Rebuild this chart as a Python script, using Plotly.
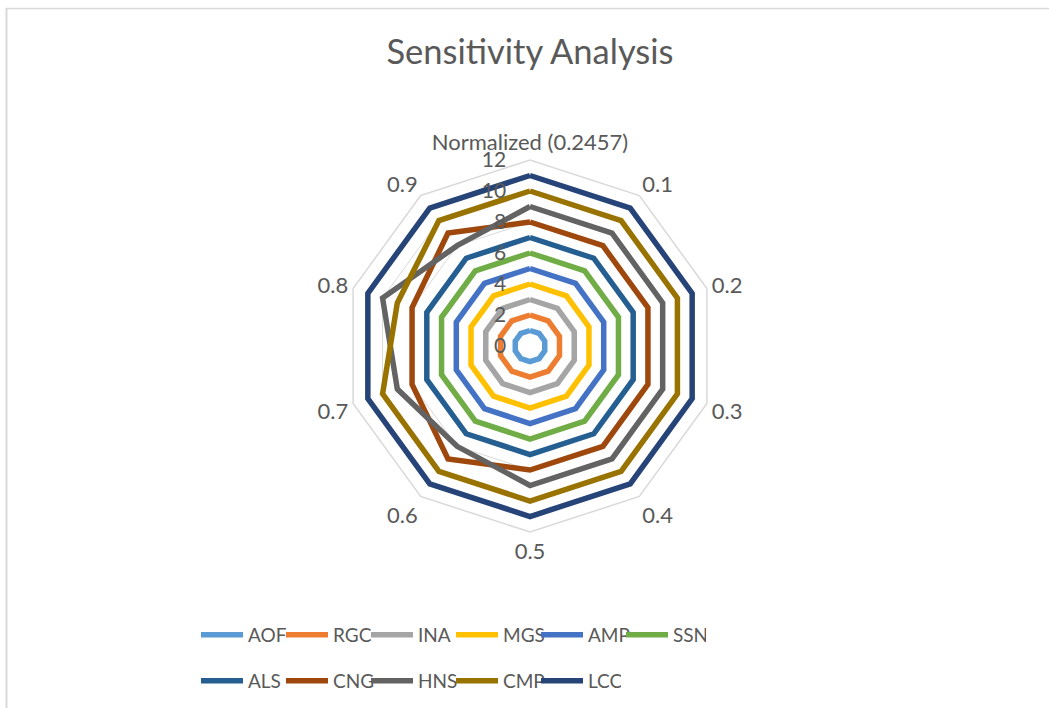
import plotly.graph_objects as go

W, H = 1049, 708

# Angular categories (normalized base value plus sensitivity steps)
categories = ["Normalized (0.2457)", "0.1", "0.2", "0.3", "0.4",
              "0.5", "0.6", "0.7", "0.8", "0.9"]

# Series values around the radar, one per category
AOF = [1, 1, 1, 1, 1, 1, 1, 1, 1, 1]
RGC = [2, 2, 2, 2, 2, 2, 2, 2, 2, 2]
INA = [3, 3, 3, 3, 3, 3, 3, 3, 3, 3]
MGS = [4, 4, 4, 4, 4, 4, 4, 4, 4, 4]
AMP = [5, 5, 5, 5, 5, 5, 5, 5, 5, 5]
SSN = [6, 6, 6, 6, 6, 6, 6, 6, 6, 6]
ALS = [7, 7, 7, 7, 7, 7, 7, 7, 7, 7]
CNG = [8, 8, 8, 8, 8, 8, 9, 8, 8, 9]
HNS = [9, 9, 9, 9, 9, 9, 8, 9, 10, 8]
CMP = [10, 10, 10, 10, 10, 10, 10, 10, 9, 10]
LCC = [11, 11, 11, 11, 11, 11, 11, 11, 11, 11]

series_names = ["AOF", "RGC", "INA", "MGS", "AMP", "SSN",
                "ALS", "CNG", "HNS", "CMP", "LCC"]
series_values = [AOF, RGC, INA, MGS, AMP, SSN, ALS, CNG, HNS, CMP, LCC]
series_colors = ["#5B9BD5", "#ED7D31", "#A5A5A5", "#FFC000", "#4472C4", "#70AD47",
                 "#255E91", "#9E480E", "#636363", "#997300", "#264478"]

radial_ticks = [0, 2, 4, 6, 8, 10, 12]

FONT = "Lato"
TXT = "#595959"
GRID = "#D9D9D9"

fig = go.Figure()
for i, (name, vals, col) in enumerate(zip(series_names, series_values, series_colors)):
    fig.add_trace(go.Scatterpolar(
        r=vals + vals[:1],
        theta=categories + categories[:1],
        mode="lines",
        name=name,
        line=dict(color=col, width=5.5),
        legend="legend" if i < 6 else "legend2",
    ))

cx, cy, R = 530, 346, 186
legend_common = dict(
    orientation="h",
    xanchor="left", yanchor="middle",
    font=dict(family=FONT, size=19, color=TXT),
    bgcolor="rgba(0,0,0,0)",
    entrywidth=28, entrywidthmode="pixels",
    itemwidth=42,
    traceorder="normal",
)

fig.update_layout(
    width=W, height=H,
    margin=dict(l=0, r=0, t=0, b=0),
    paper_bgcolor="white",
    font=dict(family=FONT, color=TXT),
    title=dict(text="Sensitivity Analysis", x=530 / W, xanchor="center",
               y=1 - 52 / H, yanchor="middle",
               font=dict(family=FONT, size=34.5, color=TXT)),
    polar=dict(
        domain=dict(x=[(cx - R) / W, (cx + R) / W],
                    y=[1 - (cy + R) / H, 1 - (cy - R) / H]),
        bgcolor="white",
        gridshape="linear",
        radialaxis=dict(
            range=[0, 12], tickvals=radial_ticks, angle=90, tickangle=90,
            side="counterclockwise", showline=False,
            ticks="outside", ticklen=16, tickcolor="rgba(0,0,0,0)",
            gridcolor=GRID, gridwidth=1,
            tickfont=dict(family=FONT, size=21, color=TXT),
            layer="above traces",
        ),
        angularaxis=dict(
            direction="clockwise", rotation=90,
            showgrid=False, showline=True, linecolor=GRID, linewidth=1.5,
            ticks="", tickfont=dict(family=FONT, size=22, color=TXT),
        ),
    ),
    legend=dict(x=196 / W, y=1 - 635 / H, **legend_common),
    legend2=dict(x=196 / W, y=1 - 681 / H, **legend_common),
    shapes=[
        dict(type="line", xref="paper", yref="paper",
             x0=6.5 / W, x1=6.5 / W, y0=1 - 8 / H, y1=0,
             line=dict(color=GRID, width=2)),
        dict(type="line", xref="paper", yref="paper",
             x0=6 / W, x1=1, y0=1 - 8.5 / H, y1=1 - 8.5 / H,
             line=dict(color=GRID, width=1.5)),
    ],
)

fig.write_html("out.html")
